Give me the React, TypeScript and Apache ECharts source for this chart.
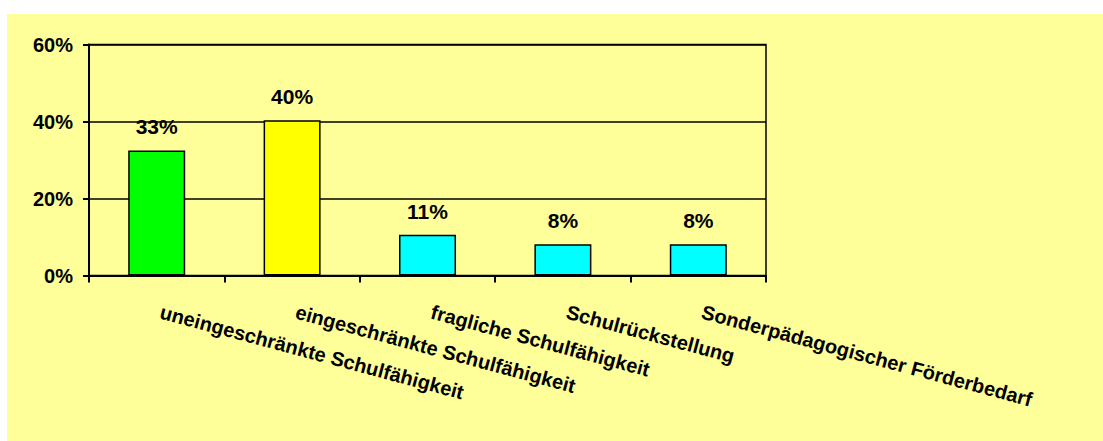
import React, { useEffect, useRef } from "react";
import * as echarts from "echarts";

const categories = [
  "uneingeschränkte Schulfähigkeit",
  "eingeschränkte Schulfähigkeit",
  "fragliche Schulfähigkeit",
  "Schulrückstellung",
  "Sonderpädagogischer Förderbedarf",
];
const values = [32.5, 40.3, 10.6, 8.1, 8.1];
const barColors = ["#00FF00", "#FFFF00", "#00FFFF", "#00FFFF", "#00FFFF"];
const yTicks = { min: 0, max: 60, interval: 20 };

const FONT = "'Liberation Sans', Arial, sans-serif";

export default function App() {
  const ref = useRef<HTMLDivElement>(null);
  useEffect(() => {
    if (!ref.current) return;
    const chart = echarts.init(ref.current, null, { renderer: "svg" });
    chart.setOption({
      animation: false,
      backgroundColor: "#FFFF99",
      grid: {
        left: 82,
        top: 30.5,
        width: 677,
        height: 231,
        show: true,
        borderColor: "#000",
        borderWidth: 1.5,
        backgroundColor: "transparent",
      },
      xAxis: {
        type: "category",
        data: categories,
        boundaryGap: true,
        axisLine: { show: true, lineStyle: { color: "#000", width: 2 } },
        axisTick: { show: true, length: 7, lineStyle: { color: "#000", width: 2 } },
        axisLabel: {
          rotate: -15,
          margin: 35,
          interval: 0,
          color: "#000",
          fontFamily: FONT,
          fontWeight: "bold",
          fontSize: 20,
          padding: [0, 0, 0, 4],
        },
      },
      yAxis: {
        type: "value",
        min: yTicks.min,
        max: yTicks.max,
        interval: yTicks.interval,
        axisLine: { show: true, lineStyle: { color: "#000", width: 2 } },
        axisTick: { show: true, length: 6, lineStyle: { color: "#000", width: 2 } },
        splitLine: { show: true, lineStyle: { color: "#000", width: 1.5 } },
        axisLabel: {
          margin: 16,
          color: "#000",
          fontFamily: FONT,
          fontWeight: "bold",
          fontSize: 20,
          formatter: (v: number) => `${v}%`,
        },
      },
      series: [
        {
          type: "bar",
          barWidth: 57,
          data: values.map((v, i) => ({
            value: v,
            itemStyle: { color: barColors[i], borderColor: "#000", borderWidth: 1.5 },
          })),
          label: {
            show: true,
            position: "top",
            distance: 13,
            color: "#000",
            fontFamily: FONT,
            fontWeight: "bold",
            fontSize: 21,
            formatter: (p: any) => `${Math.round(p.value)}%`,
          },
        },
      ],
    });
    return () => chart.dispose();
  }, []);
  return (
    <div
      ref={ref}
      style={{ position: "fixed", left: 7, top: 14, width: 1096, height: 427 }}
    />
  );
}
